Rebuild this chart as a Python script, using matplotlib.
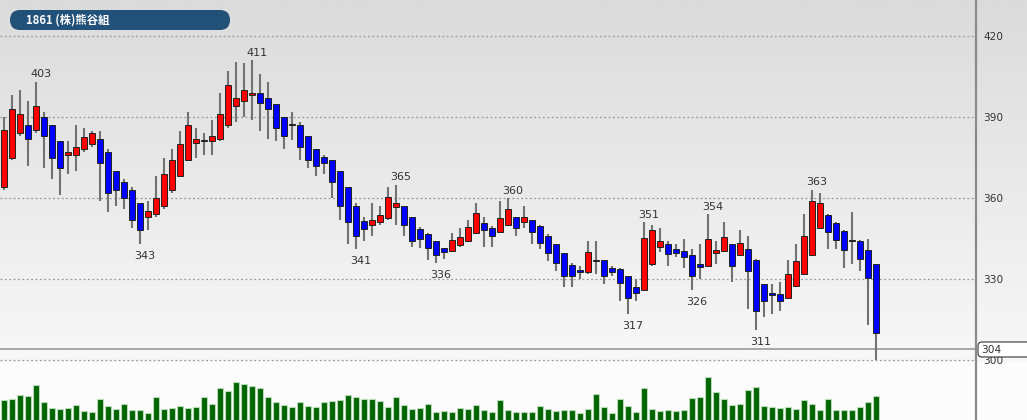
import matplotlib.pyplot as plt
from matplotlib.patches import FancyBboxPatch
from matplotlib.lines import Line2D
from matplotlib.transforms import IdentityTransform
import numpy as np

title = "1861 (株)熊谷組"

opens = [364, 375, 384, 387, 385, 390, 387, 381, 376, 376,
         378, 380, 382, 377, 370, 366, 363, 358, 353, 354,
         357, 363, 368, 374, 380.5, 381, 381, 382, 387, 394,
         396, 398, 399, 397, 395, 390, 387, 387, 383, 378,
         375, 374, 370, 364, 357, 351.5, 350, 351, 352.5, 356.6,
         357, 353, 348.6, 346.5, 344, 341.4, 340.5, 342.6, 344, 347,
         350.6, 349, 347.5, 350, 353, 351, 352, 349.6, 346, 343,
         339.5, 335, 333.3, 332.7, 336.7, 337, 334, 333.6, 331, 327,
         326, 335.4, 341.7, 343, 341, 340.4, 339, 335.4, 335, 339.7,
         340.4, 343, 339, 341, 337, 328, 324.7, 324.4, 323, 327.5,
         332, 339, 349, 353.7, 350.7, 347.8, 344.3, 344.2, 340.7, 335.4]
highs = [390, 398, 400, 396, 403, 392, 387, 381, 381, 387,
         386, 385, 385, 378, 370, 367, 364, 358, 359, 368,
         375, 378, 385, 392, 386, 384, 389, 399, 407, 410.5,
         410, 411, 406, 403, 395, 390, 392, 388, 383, 378,
         376, 374, 370, 364, 358, 353, 358, 357, 364, 365,
         357, 353, 349.4, 347, 344, 341.5, 347, 349, 352, 358,
         353, 349.5, 359, 360, 353, 357, 352, 350, 346.5, 343,
         339.5, 336, 335, 344, 344, 337, 335, 334, 331, 330,
         351, 350, 349, 344, 343, 345, 341, 343, 354, 344,
         351, 343, 348, 346, 337.5, 328, 328, 329, 337, 343,
         354, 363, 362, 354, 351, 348, 355, 344.5, 345, 335.5]
lows = [363, 374, 383, 372, 384, 371, 367, 361, 369, 370,
        377, 379, 359, 355, 357, 356, 349, 343, 348, 353,
        356, 362, 368, 374, 375, 376, 376, 381, 386, 388,
        390, 389, 385, 382, 381, 378, 381.5, 374, 371, 368,
        369, 360, 352, 343, 341, 344, 346, 350, 352, 350,
        346, 342, 341.4, 337, 336, 337.3, 340, 342, 344, 346.5,
        342, 342, 347, 350, 346, 349, 343, 341, 336.5, 333,
        327, 327, 330, 332, 332, 328, 331, 322, 317, 322,
        326, 335, 340, 335, 338, 334, 326, 330, 335, 335.6,
        340, 329, 338.5, 319, 311, 316, 317, 318, 323, 327,
        332, 339, 349, 341, 341, 334, 335.4, 333, 313, 300]
closes = [385, 393, 391, 382, 394, 383, 375, 371, 377, 379,
          382.5, 384, 373, 362, 363, 360, 352, 348, 355, 360,
          369, 374, 380, 387, 382, 381.2, 383, 391, 402, 397,
          400, 399, 395, 393, 386, 383, 387.3, 379, 374, 372,
          373, 366, 357, 351, 346, 348.6, 352, 353.6, 360.4, 358,
          350, 344, 344.7, 341.4, 339, 340, 344.4, 345.7, 349.4, 354.3,
          348, 346, 352.5, 356, 349, 353, 347.4, 343.2, 339.7, 336,
          331, 331, 332.6, 340, 337, 331, 332.7, 328.4, 323, 325,
          345, 348, 344, 339.3, 339.7, 338, 331, 334.6, 344.7, 340.7,
          345.7, 335, 343.5, 333, 318, 322, 324.1, 322, 332, 336.7,
          346, 359, 358, 347.5, 344.6, 340.7, 344.1, 337.3, 330.2, 310]
volumes = [200, 207, 247, 243, 350, 180, 120, 107, 120, 153,
           90, 83, 213, 140, 110, 157, 97, 100, 70, 230,
           110, 117, 140, 117, 133, 227, 163, 317, 287, 380,
           357, 343, 317, 230, 180, 150, 130, 177, 140, 133,
           180, 190, 200, 247, 227, 213, 210, 187, 130, 227,
           150, 113, 123, 160, 83, 90, 80, 123, 110, 150,
           100, 77, 200, 100, 80, 80, 83, 137, 107, 93,
           97, 97, 73, 113, 260, 130, 73, 207, 137, 77,
           320, 113, 93, 97, 93, 100, 220, 227, 427, 277,
           207, 153, 163, 300, 333, 140, 127, 120, 130, 107,
           200, 157, 100, 207, 103, 103, 97, 133, 183, 237]

last_price = 304
price_ticks = [300, 330, 360, 390, 420]
mark_idx = [4, 31, 49, 63, 80, 88, 101, 17, 44, 54, 78, 86, 94]
mark_side = ['high'] * 7 + ['low'] * 6

W, H = 1027, 420
fig = plt.figure(figsize=(W / 100, H / 100), dpi=100)
fig.patch.set_facecolor('#fcfcfc')

# gradient background behind price area
bg = fig.add_axes([0, 58 / H, 1, 362 / H])
grad = np.linspace(0, 1, 256).reshape(-1, 1)
bg.imshow(grad, aspect='auto', cmap=plt.matplotlib.colors.LinearSegmentedColormap.from_list(
    'g', ['#f8f8f8', '#dbdbdb']), origin='lower', extent=[0, 1, 0, 1])
bg.set_axis_off()

x = np.arange(len(opens))
ax = fig.add_axes([0, 58 / H, 976 / W, 362 / H])
ax.set_facecolor('none')
ax.set_xlim(-0.5, 121.5)
ax.set_ylim(300 - 2 / 2.7, 300 + 360 / 2.7)

o = np.array(opens)
c = np.array(closes)
up = c >= o
ax.vlines(x, lows, highs, color='#727272', lw=1.5, zorder=2)
body = np.maximum(np.abs(c - o), 0.35)
ax.bar(x, body, bottom=np.minimum(o, c), width=0.75,
       color=np.where(up, '#ff0000', '#0000ff'), edgecolor='#222222', lw=0.7, zorder=3)

ax.axhline(last_price, color='#9a9a9a', lw=1.2, zorder=1)

ax.set_yticks(price_ticks)
ax.yaxis.tick_right()
ax.tick_params(axis='y', length=0, pad=5, labelsize=7.6, labelcolor='#333333')
ax.set_xticks([])
ax.yaxis.grid(True, linestyle=(0, (1.5, 2)), color='#9a9a9a', lw=0.9)
for s in ax.spines.values():
    s.set_visible(False)

for i, side in zip(mark_idx, mark_side):
    if side == 'high':
        ax.annotate(f"{highs[i]:.0f}", (i, highs[i]), xytext=(3.6, 1.8), textcoords='offset points',
                    ha='center', va='bottom', fontsize=8, color='#333333')
    else:
        ax.annotate(f"{lows[i]:.0f}", (i, lows[i]), xytext=(3.6, -5), textcoords='offset points',
                    ha='center', va='top', fontsize=8, color='#333333')

# volume
vax = fig.add_axes([0, 0, 976 / W, 58 / H])
vax.set_facecolor('none')
vax.bar(x, volumes, width=0.85, color='#006400', edgecolor='#b9dab9', lw=0.8)
vax.set_xlim(-0.5, 121.5)
vax.set_ylim(0, 580)
vax.set_axis_off()

fig.add_artist(Line2D([975.5 / W, 975.5 / W], [0, 1], color='#8a8a8a', lw=1.6))

# current price box
fig.add_artist(FancyBboxPatch((978, H - 357), 60, 15, boxstyle='round,pad=0,rounding_size=4',
                              fc='white', ec='#333333', lw=0.8, transform=IdentityTransform()))
fig.text(981 / W, 1 - 350 / H, str(last_price), ha='left', va='center', fontsize=7.6, color='#333333')

# title badge
fig.add_artist(FancyBboxPatch((10, H - 30), 220, 20, boxstyle='round,pad=0,rounding_size=10',
                              fc='#215079', ec='none', transform=IdentityTransform()))
fig.text(26 / W, 1 - 20.5 / H, title, ha='left', va='center', fontsize=8.2, color='white',
         fontweight='bold', family=['Noto Sans CJK JP', 'DejaVu Sans'])

fig.savefig('out.png', dpi=100)
